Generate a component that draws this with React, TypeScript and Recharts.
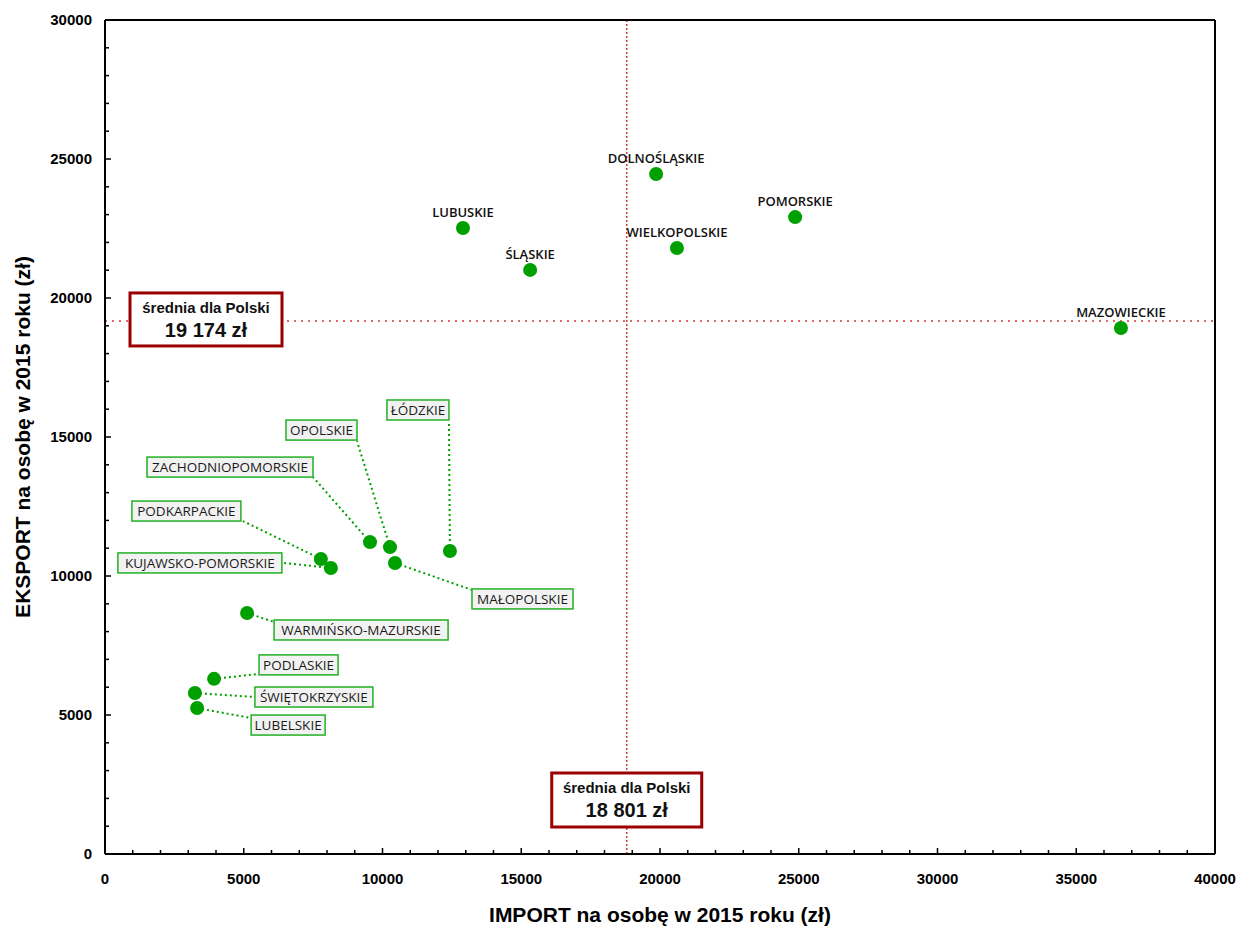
import { ScatterChart, Scatter, XAxis, YAxis, ReferenceLine } from "recharts";

const regions = [
  "DOLNOŚLĄSKIE",
  "POMORSKIE",
  "WIELKOPOLSKIE",
  "LUBUSKIE",
  "ŚLĄSKIE",
  "MAZOWIECKIE",
  "ŁÓDZKIE",
  "OPOLSKIE",
  "ZACHODNIOPOMORSKIE",
  "MAŁOPOLSKIE",
  "PODKARPACKIE",
  "KUJAWSKO-POMORSKIE",
  "WARMIŃSKO-MAZURSKIE",
  "PODLASKIE",
  "ŚWIĘTOKRZYSKIE",
  "LUBELSKIE",
];
const importPerCapita = [19860, 24870, 20610, 12900, 15320, 36610, 12430, 10270, 9550, 10450, 7780, 8140, 5120, 3930, 3240, 3320];
const exportPerCapita = [24460, 22910, 21800, 22520, 21010, 18920, 10900, 11040, 11220, 10470, 10610, 10290, 8670, 6300, 5790, 5250];

const avgImport = 18801;
const avgExport = 19174;
const avgTitle = "średnia dla Polski";
const avgImportText = "18 801 zł";
const avgExportText = "19 174 zł";

const xTicks = Array.from({ length: 41 }, (_, i) => i * 1000);
const yTicks = Array.from({ length: 31 }, (_, i) => i * 1000);
const rightTicks = Array.from({ length: 23 }, (_, i) => i);

const xTitle = "IMPORT na osobę w 2015 roku (zł)";
const yTitle = "EKSPORT na osobę w 2015 roku (zł)";

// callout boxes for the crowded lower-left group (pixel offsets from the dot)
const callouts: Record<string, { dx: number; dy: number; w: number; lx: number; ly: number }> = {
  "ŁÓDZKIE": { dx: -63, dy: -151, w: 62, lx: -1, ly: -130 },
  "OPOLSKIE": { dx: -104, dy: -127, w: 71, lx: -33, ly: -106 },
  "ZACHODNIOPOMORSKIE": { dx: -223, dy: -85, w: 166, lx: -57, ly: -65 },
  "PODKARPACKIE": { dx: -189, dy: -58, w: 109, lx: -78, ly: -38 },
  "KUJAWSKO-POMORSKIE": { dx: -213, dy: -15, w: 164, lx: -48, ly: -5 },
  "MAŁOPOLSKIE": { dx: 77, dy: 26, w: 101, lx: 77, ly: 27 },
  "WARMIŃSKO-MAZURSKIE": { dx: 27, dy: 7, w: 174, lx: 27, ly: 9 },
  "PODLASKIE": { dx: 45, dy: -24, w: 79, lx: 45, ly: -5 },
  "ŚWIĘTOKRZYSKIE": { dx: 60, dy: -6, w: 118, lx: 60, ly: 4 },
  "LUBELSKIE": { dx: 54, dy: 7, w: 74, lx: 54, ly: 10 },
};

const rows = regions.map((name, i) => ({ name, imp: importPerCapita[i], exp: exportPerCapita[i] }));

const W = 1240;
const H = 918;
const AXIS_FONT = "'Liberation Sans', Arial, sans-serif";
const LABEL_FONT = "'Open Sans', sans-serif";
const GREEN = "#00a000";
const RED = "#d23a3a";
const DARK_RED = "#9b0000";

const tickLen = (major: boolean) => (major ? 6 : 4);

const BottomTick = ({ x, y, payload }: any) => {
  const major = payload.value % 5000 === 0;
  return (
    <g>
      <line x1={x} x2={x} y1={y} y2={y - tickLen(major)} stroke="#000" strokeWidth={1.5} />
      {major && (
        <text x={x} y={y + 30} textAnchor="middle" fontFamily={AXIS_FONT} fontWeight={700} fontSize={15} fill="#000">
          {payload.value}
        </text>
      )}
    </g>
  );
};

const TopTick = ({ x, y, payload }: any) => {
  const major = payload.value % 5000 === 0;
  return <line x1={x} x2={x} y1={y} y2={y + tickLen(major)} stroke="#000" strokeWidth={1.5} />;
};

const LeftTick = ({ x, y, payload }: any) => {
  const major = payload.value % 5000 === 0;
  return (
    <g>
      <line x1={x} x2={x + tickLen(major)} y1={y} y2={y} stroke="#000" strokeWidth={1.5} />
      {major && (
        <text x={x - 13} y={y + 5} textAnchor="end" fontFamily={AXIS_FONT} fontWeight={700} fontSize={15} fill="#000">
          {payload.value}
        </text>
      )}
    </g>
  );
};

const RightTick = ({ x, y, payload }: any) => {
  const major = payload.value % 2 === 0;
  return <line x1={x} x2={x - tickLen(major)} y1={y} y2={y} stroke="#000" strokeWidth={1.5} />;
};

const AvgBox = ({ x, y, w, h, value }: { x: number; y: number; w: number; h: number; value: string }) => (
  <g>
    <rect x={x} y={y} width={w} height={h} fill="#fff" stroke={DARK_RED} strokeWidth={3} />
    <text x={x + w / 2} y={y + 20} textAnchor="middle" fontFamily={AXIS_FONT} fontWeight={700} fontSize={15} fill="#111">
      {avgTitle}
    </text>
    <text x={x + w / 2} y={y + 44} textAnchor="middle" fontFamily={AXIS_FONT} fontWeight={700} fontSize={20} fill="#111">
      {value}
    </text>
  </g>
);

const RegionLabel = ({ cx, cy, payload }: any) => {
  const c = callouts[payload.name];
  if (!c) {
    return (
      <text x={cx} y={cy - 11} textAnchor="middle" fontFamily={LABEL_FONT} fontWeight={600} fontSize={13} fill="#111">
        {payload.name}
      </text>
    );
  }
  return (
    <g>
      <line x1={cx} y1={cy} x2={cx + c.lx} y2={cy + c.ly} stroke={GREEN} strokeWidth={2} strokeDasharray="2 3" />
      <rect x={cx + c.dx} y={cy + c.dy} width={c.w} height={20} fill="#f2f2f2" stroke="#22b022" strokeWidth={1.5} />
      <text
        x={cx + c.dx + c.w / 2}
        y={cy + c.dy + 15}
        textAnchor="middle"
        fontFamily={LABEL_FONT}
        fontSize={13.5}
        fill="#1a1a1a"
      >
        {payload.name}
      </text>
    </g>
  );
};

const Dot = ({ cx, cy }: any) => <circle cx={cx} cy={cy} r={7} fill={GREEN} />;

export default function App() {
  return (
    <div style={{ width: W, height: H }}>
      <ScatterChart width={W} height={H} margin={{ top: 11, right: 32, bottom: 0, left: 0 }}>
        <XAxis
          type="number"
          dataKey="imp"
          domain={[0, 40000]}
          ticks={xTicks}
          interval={0}
          height={72}
          tickSize={0}
          tickMargin={0}
          tickLine={false}
          tick={<BottomTick />}
          axisLine={{ stroke: "#000", strokeWidth: 2 }}
          label={(p: any) => (
            <text
              x={p.viewBox.x + p.viewBox.width / 2}
              y={p.viewBox.y + 68}
              textAnchor="middle"
              fontFamily={AXIS_FONT}
              fontWeight={700}
              fontSize={21}
              fill="#000"
            >
              {xTitle}
            </text>
          )}
        />
        <XAxis
          xAxisId="top"
          orientation="top"
          type="number"
          domain={[0, 40000]}
          ticks={xTicks}
          interval={0}
          height={1}
          tickSize={0}
          tickMargin={0}
          tickLine={false}
          tick={<TopTick />}
          axisLine={{ stroke: "#000", strokeWidth: 2 }}
        />
        <YAxis
          type="number"
          dataKey="exp"
          domain={[0, 30000]}
          ticks={yTicks}
          interval={0}
          width={97}
          tickSize={0}
          tickMargin={0}
          tickLine={false}
          tick={<LeftTick />}
          axisLine={{ stroke: "#000", strokeWidth: 2 }}
          label={(p: any) => {
            const cx = 22;
            const cy = p.viewBox.y + p.viewBox.height / 2;
            return (
              <text
                x={cx}
                y={cy}
                transform={`rotate(-90, ${cx}, ${cy})`}
                textAnchor="middle"
                fontFamily={AXIS_FONT}
                fontWeight={700}
                fontSize={21}
                fill="#000"
              >
                {yTitle}
              </text>
            );
          }}
        />
        <YAxis
          yAxisId="right"
          orientation="right"
          type="number"
          domain={[0, 22]}
          ticks={rightTicks}
          interval={0}
          width={1}
          tickSize={0}
          tickMargin={0}
          tickLine={false}
          tick={<RightTick />}
          axisLine={{ stroke: "#000", strokeWidth: 2 }}
        />
        <ReferenceLine
          x={avgImport}
          stroke={RED}
          strokeWidth={1.5}
          strokeDasharray="2 2"
          label={(p: any) => (
            <AvgBox
              x={p.viewBox.x - 75}
              y={p.viewBox.y + p.viewBox.height - 81}
              w={150}
              h={54}
              value={avgImportText}
            />
          )}
        />
        <ReferenceLine
          y={avgExport}
          stroke={RED}
          strokeWidth={1.5}
          strokeDasharray="2 5"
          label={(p: any) => (
            <AvgBox x={p.viewBox.x + 25} y={p.viewBox.y - 28} w={152} h={53} value={avgExportText} />
          )}
        />
        <Scatter data={rows} shape={<RegionLabel />} isAnimationActive={false} />
        <Scatter data={rows} shape={<Dot />} fill={GREEN} isAnimationActive={false} />
      </ScatterChart>
    </div>
  );
}
